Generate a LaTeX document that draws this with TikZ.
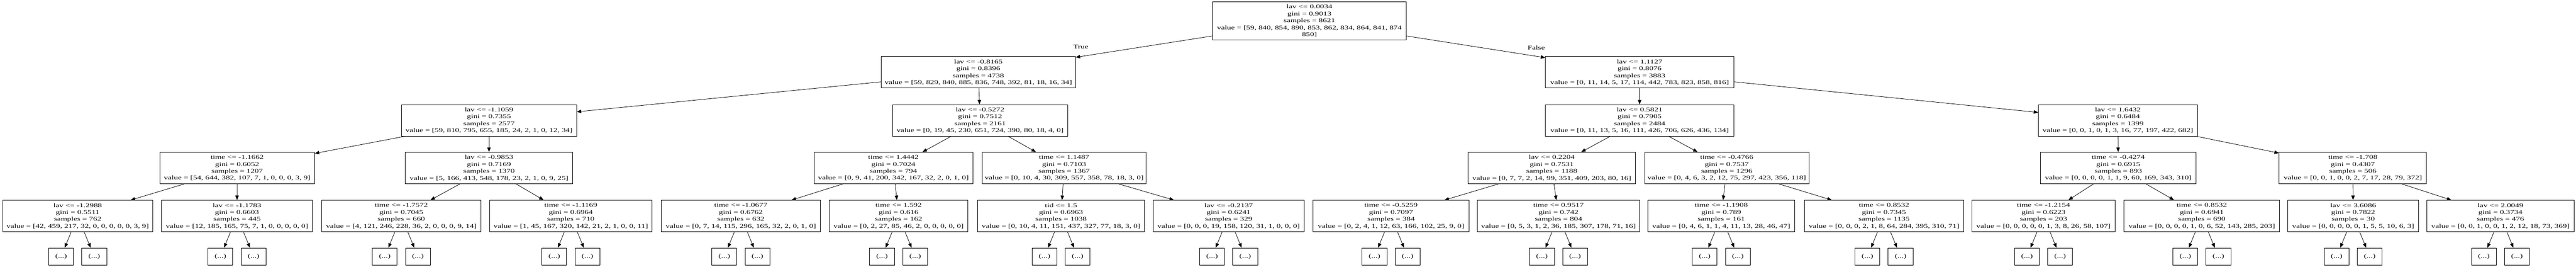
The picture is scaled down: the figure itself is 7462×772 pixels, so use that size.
\documentclass[tikz,border=0pt]{standalone}
\usepackage{fontspec}
\setmainfont{Liberation Serif}[FakeStretch=1.42]
\usetikzlibrary{arrows.meta}
\begin{document}
\begin{tikzpicture}[x=0.5pt,y=-0.5pt,
  tn/.style={draw=black, line width=0.7pt, rectangle, inner sep=0pt, align=center,
    font=\fontsize{8.35pt}{10pt}\selectfont, minimum height=45.5pt},
  tr/.style={draw=black, line width=0.7pt, rectangle, inner sep=0pt, align=center,
    font=\fontsize{8.35pt}{10pt}\selectfont, minimum width=36pt, minimum height=25pt},
  ed/.style={-{Triangle[length=6.5pt,width=5pt]}, line width=0.6pt},
  lbl/.style={font=\fontsize{8.35pt}{10pt}\selectfont, inner sep=0pt}]
\fill[white] (0,0) rectangle (7462,772);
\useasboundingbox (0,0) rectangle (7462,772);
% root
\node[tn, minimum width=281pt, minimum height=55.5pt] (root) at (3793,60.5)
  {lav <= 0.0034\\gini = 0.9013\\samples = 8621\\value = [59, 840, 854, 890, 853, 862, 834, 864, 841, 874\\850]};
% level 1
\node[tn, minimum width=281pt] (l1l) at (2834,209.5)
  {lav <= -0.8165\\gini = 0.8396\\samples = 4738\\value = [59, 829, 840, 885, 836, 748, 392, 81, 18, 16, 34]};
\node[tn, minimum width=272.5pt] (l1r) at (4749.5,209.5)
  {lav <= 1.1127\\gini = 0.8076\\samples = 3883\\value = [0, 11, 14, 5, 17, 114, 442, 783, 823, 858, 816]};
% level 2
\node[tn, minimum width=253.5pt] (l2a) at (1416.5,348.5)
  {lav <= -1.1059\\gini = 0.7355\\samples = 2577\\value = [59, 810, 795, 655, 185, 24, 2, 1, 0, 12, 34]};
\node[tn, minimum width=254pt] (l2b) at (2839,348.5)
  {lav <= -0.5272\\gini = 0.7512\\samples = 2161\\value = [0, 19, 45, 230, 651, 724, 390, 80, 18, 4, 0]};
\node[tn, minimum width=272.5pt] (l2c) at (4749.5,348.5)
  {lav <= 0.5821\\gini = 0.7905\\samples = 2484\\value = [0, 11, 13, 5, 16, 111, 426, 706, 626, 436, 134]};
\node[tn, minimum width=230pt] (l2d) at (6135,348.5)
  {lav <= 1.6432\\gini = 0.6484\\samples = 1399\\value = [0, 0, 1, 0, 1, 3, 16, 77, 197, 422, 682]};
% level 3
\node[tn, minimum width=224pt] (l3a) at (687,486.5)
  {time <= -1.1662\\gini = 0.6052\\samples = 1207\\value = [54, 644, 382, 107, 7, 1, 0, 0, 0, 3, 9]};
\node[tn, minimum width=242.5pt] (l3b) at (1416.5,486.5)
  {lav <= -0.9853\\gini = 0.7169\\samples = 1370\\value = [5, 166, 413, 548, 178, 23, 2, 1, 0, 9, 25]};
\node[tn, minimum width=230pt] (l3c) at (2588,486.5)
  {time <= 1.4442\\gini = 0.7024\\samples = 794\\value = [0, 9, 41, 200, 342, 167, 32, 2, 0, 1, 0]};
\node[tn, minimum width=237.5pt] (l3d) at (3082.5,486.5)
  {time <= 1.1487\\gini = 0.7103\\samples = 1367\\value = [0, 10, 4, 30, 309, 557, 358, 78, 18, 3, 0]};
\node[tn, minimum width=243pt] (l3e) at (4495,486.5)
  {lav <= 0.2204\\gini = 0.7531\\samples = 1188\\value = [0, 7, 7, 2, 14, 99, 351, 409, 203, 80, 16]};
\node[tn, minimum width=238pt] (l3f) at (5002,486.5)
  {time <= -0.4766\\gini = 0.7537\\samples = 1296\\value = [0, 4, 6, 3, 2, 12, 75, 297, 423, 356, 118]};
\node[tn, minimum width=225pt] (l3g) at (6136,486.5)
  {time <= -0.4274\\gini = 0.6915\\samples = 893\\value = [0, 0, 0, 0, 1, 1, 9, 60, 169, 343, 310]};
\node[tn, minimum width=213.5pt] (l3h) at (6815.5,486.5)
  {time <= -1.708\\gini = 0.4307\\samples = 506\\value = [0, 0, 1, 0, 0, 2, 7, 17, 28, 79, 372]};
% level 4
\node[tn, minimum width=217pt] (l4a) at (225,625.5)
  {lav <= -1.2988\\gini = 0.5511\\samples = 762\\value = [42, 459, 217, 32, 0, 0, 0, 0, 0, 3, 9]};
\node[tn, minimum width=218.5pt] (l4b) at (686.5,625.5)
  {lav <= -1.1783\\gini = 0.6603\\samples = 445\\value = [12, 185, 165, 75, 7, 1, 0, 0, 0, 0, 0]};
\node[tn, minimum width=230.5pt] (l4c) at (1162.5,625.5)
  {time <= -1.7572\\gini = 0.7045\\samples = 660\\value = [4, 121, 246, 228, 36, 2, 0, 0, 0, 9, 14]};
\node[tn, minimum width=235.5pt] (l4d) at (1653.5,625.5)
  {time <= -1.1169\\gini = 0.6964\\samples = 710\\value = [1, 45, 167, 320, 142, 21, 2, 1, 0, 0, 11]};
\node[tn, minimum width=230pt] (l4e) at (2146,625.5)
  {time <= -1.0677\\gini = 0.6762\\samples = 632\\value = [0, 7, 14, 115, 296, 165, 32, 2, 0, 1, 0]};
\node[tn, minimum width=201pt] (l4f) at (2603,625.5)
  {time <= 1.592\\gini = 0.616\\samples = 162\\value = [0, 2, 27, 85, 46, 2, 0, 0, 0, 0, 0]};
\node[tn, minimum width=242.5pt] (l4g) at (3073.5,625.5)
  {tid <= 1.5\\gini = 0.6963\\samples = 1038\\value = [0, 10, 4, 11, 151, 437, 327, 77, 18, 3, 0]};
\node[tn, minimum width=219pt] (l4h) at (3559,625.5)
  {lav <= -0.2137\\gini = 0.6241\\samples = 329\\value = [0, 0, 0, 19, 158, 120, 31, 1, 0, 0, 0]};
\node[tn, minimum width=226.5pt] (l4i) at (4029.5,625.5)
  {time <= -0.5259\\gini = 0.7097\\samples = 384\\value = [0, 2, 4, 1, 12, 63, 166, 102, 25, 9, 0]};
\node[tn, minimum width=235.5pt] (l4j) at (4514.5,625.5)
  {time <= 0.9517\\gini = 0.742\\samples = 804\\value = [0, 5, 3, 1, 2, 36, 185, 307, 178, 71, 16]};
\node[tn, minimum width=212pt] (l4k) at (4986,625.5)
  {time <= -1.1908\\gini = 0.789\\samples = 161\\value = [0, 4, 6, 1, 1, 4, 11, 13, 28, 46, 47]};
\node[tn, minimum width=230.5pt] (l4l) at (5457.5,625.5)
  {time <= 0.8532\\gini = 0.7345\\samples = 1135\\value = [0, 0, 0, 2, 1, 8, 64, 284, 395, 310, 71]};
\node[tn, minimum width=207.5pt] (l4m) at (5919.5,625.5)
  {time <= -1.2154\\gini = 0.6223\\samples = 203\\value = [0, 0, 0, 0, 0, 1, 3, 8, 26, 58, 107]};
\node[tn, minimum width=225pt] (l4n) at (6378,625.5)
  {time <= 0.8532\\gini = 0.6941\\samples = 690\\value = [0, 0, 0, 0, 1, 0, 6, 52, 143, 285, 203]};
\node[tn, minimum width=189.5pt] (l4o) at (6816.5,625.5)
  {lav <= 3.6086\\gini = 0.7822\\samples = 30\\value = [0, 0, 0, 0, 0, 1, 5, 5, 10, 6, 3]};
\node[tn, minimum width=213pt] (l4p) at (7243,625.5)
  {lav <= 2.0049\\gini = 0.3734\\samples = 476\\value = [0, 0, 1, 0, 0, 1, 2, 12, 18, 73, 369]};
% edges
\draw[ed] (root) -- (l1l);
\draw[ed] (root) -- (l1r);
\node[lbl] (tlab) at (3131,136) {True};
\node[lbl] (flab) at (4450,138) {False};
\draw[ed] (l1l) -- (l2a);
\draw[ed] (l1l) -- (l2b);
\draw[ed] (l1r) -- (l2c);
\draw[ed] (l1r) -- (l2d);
\draw[ed] (l2a) -- (l3a);
\draw[ed] (l2a) -- (l3b);
\draw[ed] (l2b) -- (l3c);
\draw[ed] (l2b) -- (l3d);
\draw[ed] (l2c) -- (l3e);
\draw[ed] (l2c) -- (l3f);
\draw[ed] (l2d) -- (l3g);
\draw[ed] (l2d) -- (l3h);
\draw[ed] (l3a) -- (l4a);
\draw[ed] (l3a) -- (l4b);
\draw[ed] (l3b) -- (l4c);
\draw[ed] (l3b) -- (l4d);
\draw[ed] (l3c) -- (l4e);
\draw[ed] (l3c) -- (l4f);
\draw[ed] (l3d) -- (l4g);
\draw[ed] (l3d) -- (l4h);
\draw[ed] (l3e) -- (l4i);
\draw[ed] (l3e) -- (l4j);
\draw[ed] (l3f) -- (l4k);
\draw[ed] (l3f) -- (l4l);
\draw[ed] (l3g) -- (l4m);
\draw[ed] (l3g) -- (l4n);
\draw[ed] (l3h) -- (l4o);
\draw[ed] (l3h) -- (l4p);
% truncated children
\foreach \n/\c in {a/225, b/686.5, c/1162.5, d/1653.5, e/2146, f/2603, g/3073.5, h/3559,
                   i/4029.5, j/4514.5, k/4986, l/5457.5, m/5919.5, n/6378, o/6816.5, p/7243} {
  \node[tr] (l5\n1) at ({\c-48},743) {(...)};
  \node[tr] (l5\n2) at ({\c+48},743) {(...)};
  \draw[ed] (l4\n) -- (l5\n1);
  \draw[ed] (l4\n) -- (l5\n2);
}
\end{tikzpicture}
\end{document}
